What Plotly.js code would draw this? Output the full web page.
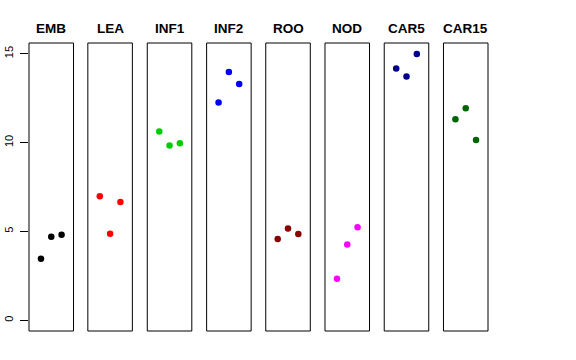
<!DOCTYPE html>
<html>
<head>
<meta charset="utf-8">
<script src="https://cdn.plot.ly/plotly-3.0.1.min.js"></script>
<style>html,body{margin:0;padding:0;background:#fff;}#chart{width:576px;height:360px;}</style>
</head>
<body>
<div id="chart"></div>
<script>
const categories = ["EMB","LEA","INF1","INF2","ROO","NOD","CAR5","CAR15"];
const colors = ["#000000","#FF0000","#00CD00","#0000FF","#8B0000","#FF00FF","#00008B","#006400"];
const replicate = [1,2,3];
const EMB = [3.46,4.70,4.81];
const LEA = [6.98,4.87,6.66];
const INF1 = [10.62,9.83,9.96];
const INF2 = [12.25,13.97,13.29];
const ROO = [4.58,5.17,4.85];
const NOD = [2.34,4.27,5.24];
const CAR5 = [14.17,13.72,14.98];
const CAR15 = [11.31,11.93,10.15];
const seriesValues = [EMB,LEA,INF1,INF2,ROO,NOD,CAR5,CAR15];
const yTicks = [0,5,10,15];

const W = 576, H = 360;
const mL = 29, mR = 88.3, mT = 43.3, mB = 29.3;
const plotW = W - mL - mR;
const panelLefts = [29, 87.8, 147.2, 206.5, 265.6, 324.8, 384.0, 443.2];
const panelW = 44.5;

const traces = [];
const layout = {
  width: W, height: H,
  margin: {l: mL, r: mR, t: mT, b: mB, pad: 0},
  paper_bgcolor: "#fff", plot_bgcolor: "#fff",
  showlegend: false,
  font: {family: "Liberation Sans, Arial, sans-serif", color: "#000"},
  shapes: [], annotations: [],
  yaxis: {
    range: [-0.6, 15.6], tickvals: yTicks, ticktext: yTicks.map(String),
    ticks: "outside", ticklen: 8, tickwidth: 1, tickcolor: "#000",
    tickangle: -90, tickfont: {size: 11, color: "#000"}, ticklabelstandoff: 3,
    showgrid: false, zeroline: false, showline: false,
    anchor: "x", fixedrange: true
  }
};

categories.forEach((cat, i) => {
  const ax = i === 0 ? "x" : "x" + (i + 1);
  const axKey = i === 0 ? "xaxis" : "xaxis" + (i + 1);
  const d0 = (panelLefts[i] - mL) / plotW;
  const d1 = (panelLefts[i] + panelW - mL) / plotW;
  layout[axKey] = {
    domain: [d0, d1], range: [-0.16, 4.16], anchor: "y",
    showticklabels: false, ticks: "", showgrid: false, zeroline: false, showline: false
  };
  traces.push({
    type: "scatter", mode: "markers",
    x: replicate, y: seriesValues[i],
    xaxis: ax, yaxis: "y",
    marker: {color: colors[i], size: 6.5},
    hoverinfo: "skip"
  });
  layout.shapes.push({
    type: "rect", xref: ax + " domain", yref: "y domain",
    x0: 0, x1: 1, y0: 0, y1: 1,
    line: {color: "#000", width: 1}
  });
  layout.annotations.push({
    text: "<b>" + cat + "</b>", xref: ax + " domain", yref: "paper",
    x: 0.5, y: 1, xanchor: "center", yanchor: "bottom", yshift: 5,
    showarrow: false, font: {size: 13.5, color: "#000"}
  });
});

Plotly.newPlot("chart", traces, layout, {staticPlot: true, displayModeBar: false});
</script>
</body>
</html>
